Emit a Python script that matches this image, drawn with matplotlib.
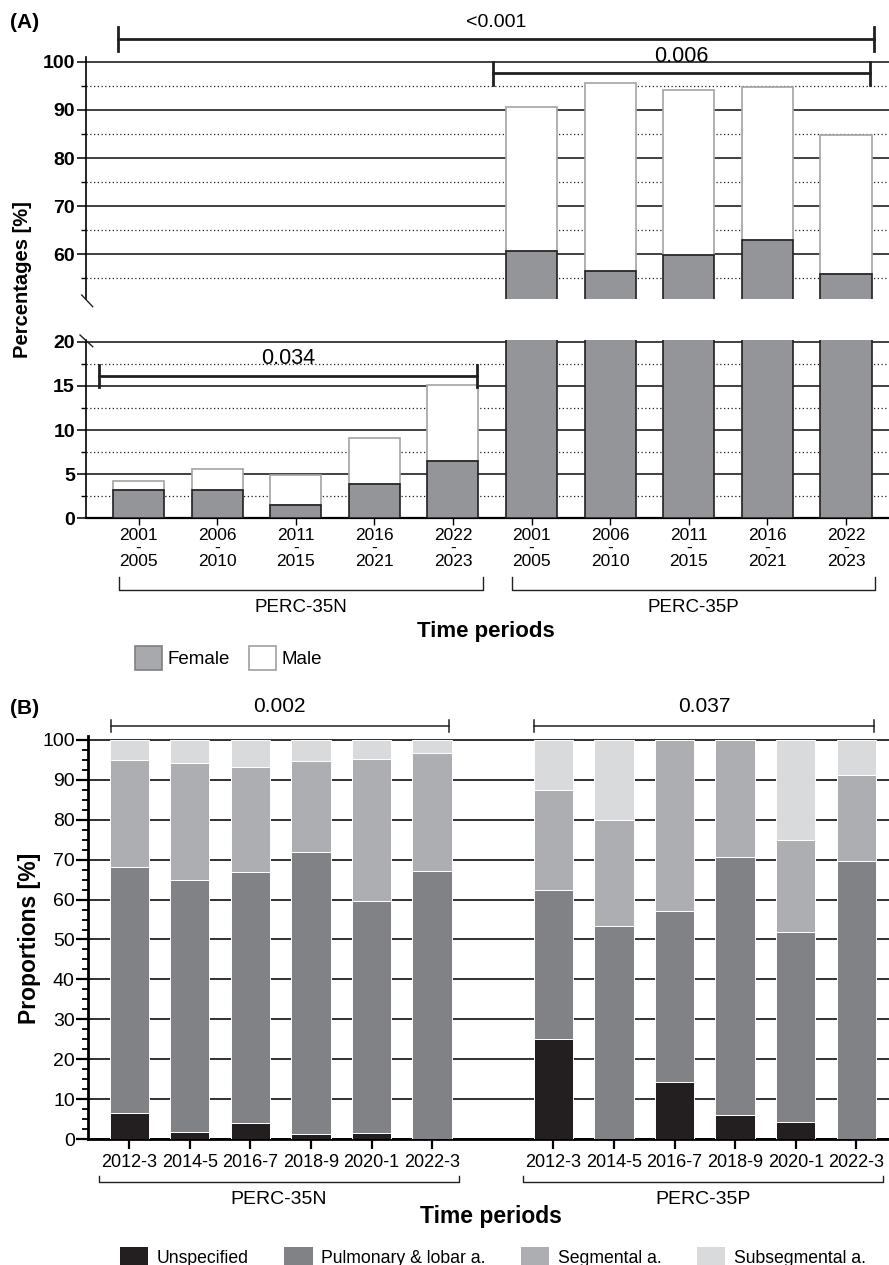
import matplotlib
matplotlib.use("Agg")
import matplotlib.pyplot as plt
import numpy as np
from matplotlib.patches import Patch
from matplotlib.ticker import MultipleLocator
import matplotlib.transforms as mtransforms

# ---- data, panel A (sex distribution) ----
periods_a = ["2001\n-\n2005", "2006\n-\n2010", "2011\n-\n2015", "2016\n-\n2021", "2022\n-\n2023"]
female_35n = [3.2, 3.2, 1.5, 3.9, 6.5]
total_35n = [4.2, 5.6, 4.9, 9.1, 15.1]
female_35p = [60.7, 56.6, 59.8, 63.0, 55.9]
total_35p = [90.6, 95.6, 94.1, 94.7, 84.7]
groups = ["PERC-35N", "PERC-35P"]
pvals_a = ["<0.001", "0.006", "0.034"]

# ---- data, panel B (location of PE) ----
periods_b = ["2012-3", "2014-5", "2016-7", "2018-9", "2020-1", "2022-3"]
unspec_35n = [6.6, 1.7, 3.9, 1.3, 1.6, 0.0]
pulm_35n = [61.6, 63.2, 62.9, 70.6, 58.0, 67.2]
seg_35n = [26.8, 29.3, 26.5, 22.9, 35.6, 29.6]
subseg_35n = [5.0, 5.8, 6.7, 5.2, 4.8, 3.2]
unspec_35p = [25.0, 0.0, 14.3, 5.9, 4.2, 0.0]
pulm_35p = [37.5, 53.3, 42.9, 64.7, 47.8, 69.6]
seg_35p = [25.0, 26.7, 42.8, 29.4, 23.0, 21.7]
subseg_35p = [12.5, 20.0, 0.0, 0.0, 25.0, 8.7]
pvals_b = ["0.002", "0.037"]
loc_labels = ["Unspecified", "Pulmonary & lobar a.", "Segmental a.", "Subsegmental a."]

plt.rcParams["font.family"] = ["Liberation Sans", "DejaVu Sans"]
DARK = "#231f20"

W, H = 889, 1265
fig = plt.figure(figsize=(W / 100, H / 100), dpi=100)


def fx(px):
    return px / W


def fy(py):
    return 1 - py / H


def axes_px(left, top, right, bottom):
    return fig.add_axes([fx(left), fy(bottom), fx(right) - fx(left), fy(top) - fy(bottom)])


# =================== panel A ===================
xa = np.arange(10)
female = np.array(female_35n + female_35p)
male = np.array(total_35n + total_35p) - female

ax_up = axes_px(86, 57, 889, 299)
ax_lo = axes_px(86, 340, 889, 518.3)

for ax, lim, major, minor in [(ax_up, (50.7, 101), 10, 5), (ax_lo, (0, 20.2), 5, 2.5)]:
    ax.bar(xa, female, 0.65, color="#939598", edgecolor=DARK, lw=1.2, zorder=3)
    ax.bar(xa, male, 0.65, bottom=female, color="white", edgecolor="#a3a3a3", lw=1.2, zorder=2)
    ax.set_xlim(-0.668, 9.547)
    ax.set_ylim(*lim)
    ax.yaxis.set_major_locator(MultipleLocator(major))
    ax.yaxis.set_minor_locator(MultipleLocator(minor))
    ax.set_axisbelow(True)
    ax.grid(axis="y", which="major", color=DARK, lw=1.2)
    ax.grid(axis="y", which="minor", color=DARK, lw=0.9, ls=(0, (1, 2)))
    ax.tick_params(axis="y", which="major", length=6.5, width=1.1, labelsize=14, pad=1.5)
    ax.tick_params(axis="y", which="minor", length=3.6, width=1.0)
    for lab in ax.get_yticklabels():
        lab.set_fontweight("bold")
    for s in ["top", "right"]:
        ax.spines[s].set_visible(False)
    ax.spines["left"].set_linewidth(1.2)

ax_up.spines["bottom"].set_visible(False)
ax_up.set_xticks([])
ax_lo.spines["bottom"].set_linewidth(1.6)
ax_lo.set_xticks(xa)
ax_lo.set_xticklabels(periods_a * 2, fontsize=12.5, linespacing=0.85)
ax_lo.tick_params(axis="x", length=5, width=1.0, pad=2)

# break marks
for (x0, y0, x1, y1) in [(81.7, 295, 92.7, 306.7), (80, 335, 92.7, 346.7)]:
    fig.add_artist(plt.Line2D([fx(x0), fx(x1)], [fy(y0), fy(y1)], color=DARK, lw=1.0))


def bracket(ax, x0, x1, y, tick, lw):
    ax.plot([x0, x1], [y, y], color=DARK, lw=lw, clip_on=False, zorder=6)
    for xx in (x0, x1):
        ax.plot([xx, xx], [y - tick, y + tick], color=DARK, lw=lw, clip_on=False, zorder=6)


bracket(ax_up, -0.26, 9.36, 104.75, 2.4, 2.0)
ax_up.text((-0.26 + 9.36) / 2, 107.2, pvals_a[0], ha="center", va="baseline", fontsize=14, clip_on=False)
bracket(ax_up, 4.51, 9.31, 97.65, 2.4, 2.0)
ax_up.text((4.51 + 9.31) / 2, 100.0, pvals_a[1], ha="center", va="baseline", fontsize=15.5, zorder=7)
bracket(ax_lo, -0.5, 4.31, 16.1, 1.25, 2.0)
ax_lo.text((-0.5 + 4.31) / 2, 17.5, pvals_a[2], ha="center", va="baseline", fontsize=15.5, zorder=7)

# group brackets under panel A
tr_a = mtransforms.blended_transform_factory(ax_lo.transData, fig.transFigure)
for (g0, g1), name in zip([(-0.25, 4.38), (4.75, 9.37)], groups):
    ax_lo.plot([g0, g0, g1, g1], [fy(577), fy(590), fy(590), fy(577)], color=DARK, lw=1.0,
               transform=tr_a, clip_on=False)
    ax_lo.text((g0 + g1) / 2, fy(608), name, transform=tr_a, ha="center", va="center", fontsize=13.5)

fig.text(fx(486), fy(631), "Time periods", ha="center", va="center", fontsize=16, fontweight="bold")
fig.text(fx(23), fy(280), "Percentages [%]", rotation=90, ha="center", va="center",
         fontsize=14.5, fontweight="bold")
fig.text(fx(10), fy(22), "(A)", ha="left", va="center", fontsize=15, fontweight="bold")

fig.legend(handles=[Patch(facecolor="#a7a9ac", edgecolor="#808080", lw=1.2, label="Female"),
                    Patch(facecolor="white", edgecolor="#a0a0a0", lw=1.2, label="Male")],
           loc="center left", bbox_to_anchor=(fx(135), fy(658)), ncol=2, frameon=False,
           fontsize=13.5, handlelength=1.45, handleheight=1.55, handletextpad=0.3,
           columnspacing=1.0, borderpad=0, borderaxespad=0)

# =================== panel B ===================
xb = np.concatenate([np.arange(6), np.arange(6) + 7])
unspec = np.array(unspec_35n + unspec_35p)
pulm = np.array(pulm_35n + pulm_35p)
seg = np.array(seg_35n + seg_35p)
subseg = np.array(subseg_35n + subseg_35p)
colors_b = [DARK, "#808285", "#adaeb1", "#d9dadc"]

ax_b = axes_px(88, 736, 889, 1139)
bottom = np.zeros(len(xb))
for vals, col in zip([unspec, pulm, seg, subseg], colors_b):
    ax_b.bar(xb, vals, 0.65, bottom=bottom, color=col, edgecolor="white", lw=0.7, zorder=3)
    bottom += vals

ax_b.set_xlim(-0.68, 12.54)
ax_b.set_ylim(0, 101)
ax_b.yaxis.set_major_locator(MultipleLocator(10))
ax_b.yaxis.set_minor_locator(MultipleLocator(2.5))
ax_b.set_axisbelow(True)
ax_b.grid(axis="y", which="major", color=DARK, lw=1.3)
ax_b.tick_params(axis="y", which="major", length=8.5, width=1.6, labelsize=14, pad=1)
ax_b.tick_params(axis="y", which="minor", length=4, width=1.3)
ax_b.set_xticks(xb)
ax_b.set_xticklabels(periods_b * 2, fontsize=13)
ax_b.tick_params(axis="x", length=7.5, width=1.6, pad=3.5)
for s in ["top", "right"]:
    ax_b.spines[s].set_visible(False)
ax_b.spines["left"].set_linewidth(2)
ax_b.spines["bottom"].set_linewidth(2)

bracket(ax_b, -0.30, 5.27, 103.5, 1.5, 1.1)
ax_b.text((-0.30 + 5.27) / 2, 107, pvals_b[0], ha="center", va="baseline", fontsize=15, clip_on=False)
bracket(ax_b, 6.68, 12.29, 103.5, 1.5, 1.1)
ax_b.text((6.68 + 12.29) / 2, 107, pvals_b[1], ha="center", va="baseline", fontsize=15, clip_on=False)

tr_b = mtransforms.blended_transform_factory(ax_b.transData, fig.transFigure)
for (g0, g1), name in zip([(-0.5, 5.44), (6.5, 12.44)], groups):
    ax_b.plot([g0, g0, g1, g1], [fy(1176), fy(1182), fy(1182), fy(1176)], color=DARK, lw=1.0,
              transform=tr_b, clip_on=False)
    ax_b.text((g0 + g1) / 2, fy(1200), name, transform=tr_b, ha="center", va="center", fontsize=14)

fig.text(fx(491), fy(1217), "Time periods", ha="center", va="center", fontsize=16.5, fontweight="bold")
fig.text(fx(30), fy(938), "Proportions [%]", rotation=90, ha="center", va="center",
         fontsize=16.5, fontweight="bold")
fig.text(fx(10), fy(708), "(B)", ha="left", va="center", fontsize=15, fontweight="bold")

fig.legend(handles=[Patch(facecolor=c, edgecolor="none", label=l) for c, l in zip(colors_b, loc_labels)],
           loc="center left", bbox_to_anchor=(fx(120), fy(1257)), ncol=4, frameon=False,
           fontsize=12.7, handlelength=1.6, handleheight=1.4, handletextpad=0.5,
           columnspacing=2.0, borderpad=0, borderaxespad=0)

fig.savefig("out.png", dpi=100)
